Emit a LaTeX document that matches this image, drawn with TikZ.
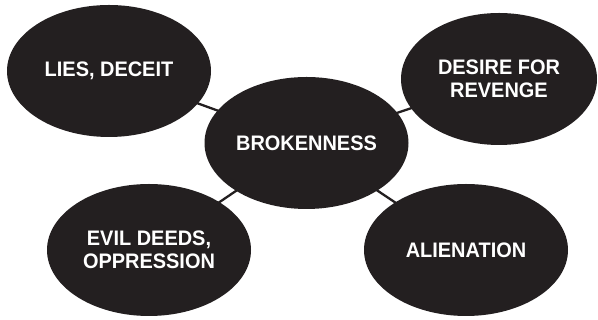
\documentclass[tikz,border=0pt]{standalone}
\usepackage{fontspec}
\setmainfont{Liberation Sans}
\newfontfamily\bubblefont[FakeStretch=0.95]{Liberation Sans}
\usetikzlibrary{shapes.geometric}

\definecolor{inkblack}{HTML}{231F20}

\tikzset{
  bubble/.style={ellipse, fill=inkblack, draw=none, inner sep=0pt,
    minimum width=204pt, minimum height=132pt, text=white,
    font=\bubblefont\fontsize{21}{23}\selectfont\bfseries, align=center},
  link/.style={draw=inkblack, line width=2.3pt}
}

\begin{document}
\begin{tikzpicture}[x=1pt, y=1pt]
  \useasboundingbox (0, 0) rectangle (598, 320);

  % Connectors first, so the ellipses sit on top
  \coordinate (c) at (306.5, 177);
  \coordinate (tl) at (109, 249);
  \coordinate (tr) at (499, 241);
  \coordinate (bl) at (149, 70);
  \coordinate (br) at (466, 70);
  \draw[link] (c) -- (tl); % to lies
  \draw[link] (c) -- (tr); % to revenge
  \draw[link] (c) -- (bl); % to evil deeds
  \draw[link] (c) -- (br); % to alienation

  % Centre
  \node[bubble] (broken) at (c) {BROKENNESS};

  % Outer ellipses
  \node[bubble] (lies) at (tl) {LIES, DECEIT};
  \node[bubble, minimum width=196pt] (revenge) at (tr) {DESIRE FOR\\REVENGE};
  \node[bubble] (evil) at (bl) {EVIL DEEDS,\\OPPRESSION};
  \node[bubble] (alien) at (br) {ALIENATION};
\end{tikzpicture}
\end{document}
